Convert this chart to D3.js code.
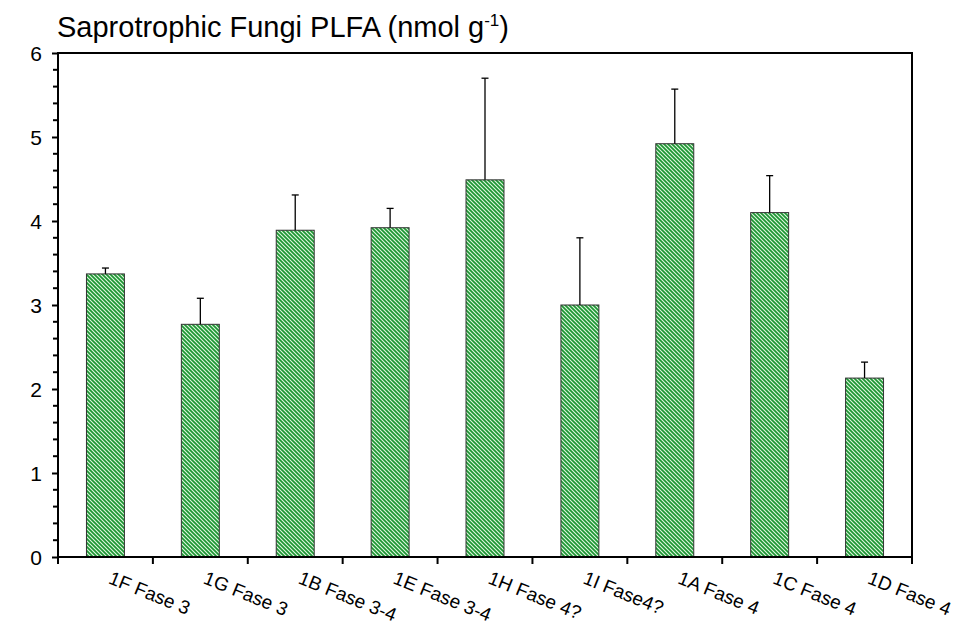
<!DOCTYPE html>
<html lang="en">
<head>
    <meta charset="UTF-8">
    <title>Saprotrophic Fungi PLFA</title>
    <script src="https://d3js.org/d3.v7.min.js"></script>
    <style>
        body { margin: 0; background: #fff; }
        text { font-family: "Liberation Sans", Arial, sans-serif; fill: #000; }
    </style>
</head>
<body>
    <div id="chart"></div>
    <script>
        // data
        const samples = ["1F Fase 3", "1G Fase 3", "1B Fase 3-4", "1E Fase 3-4", "1H Fase 4?",
            "1I Fase4?", "1A Fase 4", "1C Fase 4", "1D Fase 4"]
        const means = [3.37, 2.77, 3.89, 3.92, 4.49, 3.00, 4.92, 4.10, 2.13]
        const errors = [0.07, 0.31, 0.42, 0.23, 1.21, 0.80, 0.65, 0.44, 0.19]
        const yTicks = [0, 1, 2, 3, 4, 5, 6]

        const width = 970, height = 627
        const margin = {top: 53, right: 58, bottom: 70, left: 58}

        const svg = d3.select("#chart").append("svg")
            .attr("width", width)
            .attr("height", height)

        // hatch fill
        const defs = svg.append("defs")
        const pat = defs.append("pattern")
            .attr("id", "hatch")
            .attr("patternUnits", "userSpaceOnUse")
            .attr("width", 4)
            .attr("height", 4)
        pat.append("rect").attr("width", 4).attr("height", 4).attr("fill", "#def5de")
        pat.append("path")
            .attr("d", "M-1,-1 L5,5 M-1,3 L1,5 M3,-1 L5,1")
            .attr("stroke", "#1c9632")
            .attr("stroke-width", 1.7)

        const x = d3.scaleBand()
            .domain(samples)
            .range([margin.left, width - margin.right])
            .paddingInner(0.6)
            .paddingOuter(0.3)

        const xEdge = d3.scaleLinear()
            .domain([0, samples.length])
            .range([margin.left, width - margin.right])

        const y = d3.scaleLinear()
            .domain([0, 6])
            .range([height - margin.bottom, margin.top])

        // bars
        svg.append("g").selectAll("rect")
            .data(samples)
            .join("rect")
            .attr("x", d => x(d))
            .attr("y", (d, i) => y(means[i]))
            .attr("width", x.bandwidth())
            .attr("height", (d, i) => y(0) - y(means[i]))
            .attr("fill", "url(#hatch)")
            .attr("stroke", "#333")
            .attr("stroke-width", 1)

        // error bars (upper only)
        const err = svg.append("g").attr("stroke", "#000").attr("stroke-width", 1.3)
        samples.forEach((s, i) => {
            const cx = x(s) + x.bandwidth() / 2
            err.append("line")
                .attr("x1", cx).attr("x2", cx)
                .attr("y1", y(means[i])).attr("y2", y(means[i] + errors[i]))
            err.append("line")
                .attr("x1", cx - 3.5).attr("x2", cx + 3.5)
                .attr("y1", y(means[i] + errors[i])).attr("y2", y(means[i] + errors[i]))
        })

        // y axis: major + minor ticks, labels drawn by hand so the size sticks
        const yAxis = svg.append("g")
            .attr("transform", "translate(" + margin.left + ",0)")
            .call(d3.axisLeft(y).tickValues(yTicks).tickSize(6).tickFormat(""))
        yAxis.select(".domain").remove()
        yAxis.selectAll(".tick line").attr("stroke-width", 2)

        svg.append("g").selectAll("text")
            .data(yTicks)
            .join("text")
            .attr("x", margin.left - 16)
            .attr("y", d => y(d))
            .attr("dy", "0.36em")
            .attr("text-anchor", "end")
            .style("font-size", "21px")
            .text(d => d)

        const minor = d3.range(0, 6.01, 0.2).filter(v => Math.abs(v - Math.round(v)) > 0.01)
        svg.append("g").selectAll("line")
            .data(minor)
            .join("line")
            .attr("x1", margin.left - 5).attr("x2", margin.left)
            .attr("y1", d => y(d)).attr("y2", d => y(d))
            .attr("stroke", "#000").attr("stroke-width", 2)

        // x ticks at band boundaries
        svg.append("g").selectAll("line")
            .data(d3.range(samples.length + 1))
            .join("line")
            .attr("x1", d => xEdge(d)).attr("x2", d => xEdge(d))
            .attr("y1", y(0)).attr("y2", y(0) + 7)
            .attr("stroke", "#000").attr("stroke-width", 2)

        // frame
        svg.append("rect")
            .attr("x", margin.left)
            .attr("y", margin.top)
            .attr("width", width - margin.left - margin.right)
            .attr("height", y(0) - margin.top)
            .attr("fill", "none")
            .attr("stroke", "#000")
            .attr("stroke-width", 2)

        // x labels, slanted
        svg.append("g").selectAll("text")
            .data(samples)
            .join("text")
            .attr("transform", d => "translate(" + (x(d) + x.bandwidth() / 2 + 2) + "," + (y(0) + 26) + ") rotate(22)")
            .style("font-size", "19px")
            .text(d => d)

        // title
        const title = svg.append("text")
            .attr("x", margin.left - 1)
            .attr("y", 37)
            .style("font-size", "29px")
        title.append("tspan").text("Saprotrophic Fungi PLFA (nmol g")
        title.append("tspan").attr("dy", -11).style("font-size", "17px").text("-1")
        title.append("tspan").attr("dy", 11).text(")")
    </script>
</body>
</html>
